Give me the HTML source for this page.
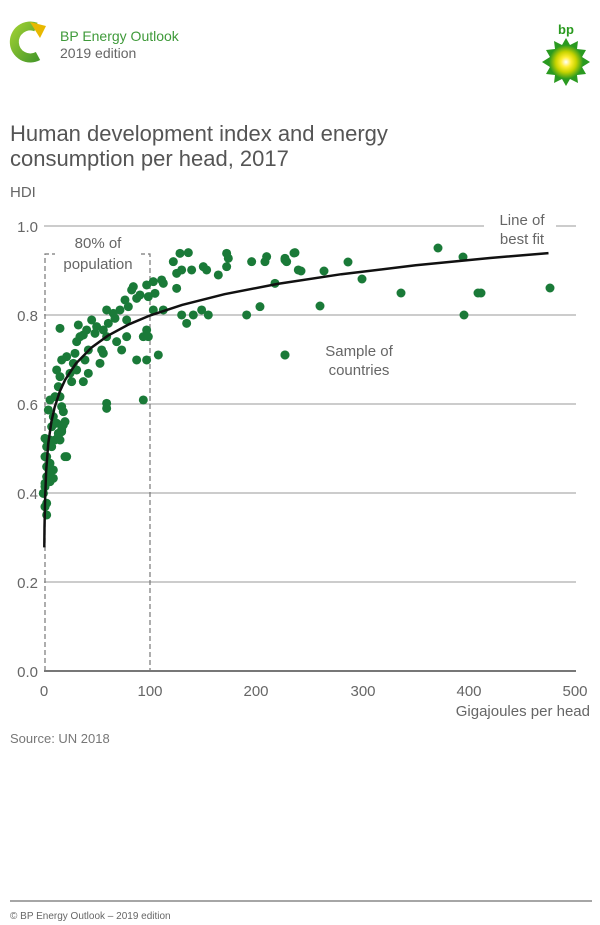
<!DOCTYPE html>
<html><head><meta charset="utf-8"><style>
html,body{margin:0;padding:0;background:#fff;}
svg{display:block;font-family:"Liberation Sans",sans-serif;}
</style></head><body>
<svg width="600" height="925" viewBox="0 0 600 925">
<defs>
<radialGradient id="sun" cx="50%" cy="50%" r="50%">
<stop offset="0" stop-color="#fff"/><stop offset="0.3" stop-color="#ffee33"/><stop offset="0.6" stop-color="#c8d400"/><stop offset="1" stop-color="#2a9a20"/>
</radialGradient>
<linearGradient id="cg" x1="0" y1="0" x2="1" y2="1"><stop offset="0" stop-color="#9acd32"/><stop offset="1" stop-color="#4a9a2a"/></linearGradient>
</defs>
<!-- header icon -->
<path d="M36 27 A16 16 0 1 0 38 56" fill="none" stroke="url(#cg)" stroke-width="9"/>
<polygon points="30,22 46,26 40,38" fill="#e8b800"/>
<text x="60" y="41" font-size="14" fill="#3f9a3a">BP Energy Outlook</text>
<text x="60" y="58" font-size="14" fill="#666">2019 edition</text>
<!-- bp logo -->
<text x="566" y="34" font-size="13" font-weight="bold" fill="#2a9a20" text-anchor="middle">bp</text>
<g transform="translate(566,62)">
<polygon points="0,-24 4,-17 12,-21 11,-13 20,-12 16,-5 24,0 16,5 20,12 11,13 12,21 4,17 0,24 -4,17 -12,21 -11,13 -20,12 -16,5 -24,0 -16,-5 -20,-12 -11,-13 -12,-21 -4,-17" fill="#2a9a20"/>
<circle r="17" fill="url(#sun)"/>
</g>
<!-- title -->
<text x="10" y="141" font-size="22" fill="#555">Human development index and energy</text>
<text x="10" y="166" font-size="22" fill="#555">consumption per head, 2017</text>
<text x="10" y="197" font-size="15" fill="#666">HDI</text>
<!-- grid -->
<g stroke="#999" stroke-width="1">
<line x1="44" y1="226" x2="484" y2="226"/><line x1="556" y1="226" x2="576" y2="226"/>
<line x1="44" y1="315" x2="576" y2="315"/>
<line x1="44" y1="404" x2="576" y2="404"/>
<line x1="44" y1="493" x2="576" y2="493"/>
<line x1="44" y1="582" x2="576" y2="582"/>
</g>
<line x1="44" y1="671" x2="576" y2="671" stroke="#777" stroke-width="2"/>
<g font-size="15" fill="#666" text-anchor="end">
<text x="38" y="232">1.0</text><text x="38" y="321">0.8</text><text x="38" y="410">0.6</text>
<text x="38" y="499">0.4</text><text x="38" y="588">0.2</text><text x="38" y="677">0.0</text>
</g>
<g font-size="15" fill="#666" text-anchor="middle">
<text x="44" y="696">0</text><text x="150" y="696">100</text><text x="256" y="696">200</text>
<text x="363" y="696">300</text><text x="469" y="696">400</text><text x="575" y="696">500</text>
</g>
<text x="590" y="716" font-size="15" fill="#666" text-anchor="end">Gigajoules per head</text>
<text x="10" y="743" font-size="13" fill="#777">Source: UN 2018</text>
<!-- dashed box -->
<path d="M45 671 V254 H150 V671" fill="none" stroke="#777" stroke-width="1.2" stroke-dasharray="5,3"/>
<rect x="55" y="232" width="86" height="40" fill="#fff"/>
<text x="98" y="248" font-size="15" fill="#666" text-anchor="middle">80% of</text>
<text x="98" y="269" font-size="15" fill="#666" text-anchor="middle">population</text>
<text x="522" y="225" font-size="15" fill="#666" text-anchor="middle">Line of</text>
<text x="522" y="244" font-size="15" fill="#666" text-anchor="middle">best fit</text>
<text x="359" y="356" font-size="15" fill="#666" text-anchor="middle">Sample of</text>
<text x="359" y="375" font-size="15" fill="#666" text-anchor="middle">countries</text>
<!-- dots -->
<g fill="#1a7a38">
<g transform="translate(0,210) scale(0.3333)">
<circle cx="540" cy="130" r="13.5"/><circle cx="565" cy="128" r="13.5"/><circle cx="520" cy="155" r="13.5"/><circle cx="530" cy="190" r="13.5"/><circle cx="545" cy="180" r="13.5"/><circle cx="575" cy="180" r="13.5"/><circle cx="610" cy="170" r="13.5"/><circle cx="620" cy="180" r="13.5"/><circle cx="655" cy="195" r="13.5"/><circle cx="680" cy="130" r="13.5"/><circle cx="685" cy="145" r="13.5"/><circle cx="680" cy="170" r="13.5"/><circle cx="755" cy="155" r="13.5"/><circle cx="800" cy="140" r="13.5"/><circle cx="795" cy="155" r="13.5"/><circle cx="855" cy="145" r="13.5"/><circle cx="860" cy="155" r="13.5"/><circle cx="885" cy="128" r="13.5"/><circle cx="895" cy="180" r="13.5"/><circle cx="825" cy="220" r="13.5"/><circle cx="545" cy="315" r="13.5"/><circle cx="580" cy="315" r="13.5"/><circle cx="560" cy="340" r="13.5"/><circle cx="605" cy="300" r="13.5"/><circle cx="625" cy="315" r="13.5"/><circle cx="740" cy="315" r="13.5"/><circle cx="780" cy="290" r="13.5"/><circle cx="855" cy="435" r="13.5"/><circle cx="530" cy="235" r="13.5"/><circle cx="440" cy="225" r="13.5"/><circle cx="460" cy="215" r="13.5"/><circle cx="485" cy="210" r="13.5"/><circle cx="490" cy="220" r="13.5"/><circle cx="445" cy="260" r="13.5"/><circle cx="465" cy="250" r="13.5"/><circle cx="460" cy="300" r="13.5"/><circle cx="490" cy="300" r="13.5"/><circle cx="440" cy="360" r="13.5"/><circle cx="445" cy="380" r="13.5"/><circle cx="430" cy="380" r="13.5"/><circle cx="475" cy="435" r="13.5"/><circle cx="410" cy="450" r="13.5"/><circle cx="440" cy="450" r="13.5"/><circle cx="430" cy="570" r="13.5"/><circle cx="400" cy="230" r="13.5"/><circle cx="420" cy="255" r="13.5"/><circle cx="410" cy="265" r="13.5"/><circle cx="395" cy="240" r="13.5"/><circle cx="375" cy="270" r="13.5"/><circle cx="385" cy="290" r="13.5"/><circle cx="360" cy="300" r="13.5"/><circle cx="340" cy="310" r="13.5"/><circle cx="345" cy="325" r="13.5"/><circle cx="320" cy="300" r="13.5"/><circle cx="325" cy="340" r="13.5"/><circle cx="310" cy="360" r="13.5"/><circle cx="380" cy="330" r="13.5"/><circle cx="380" cy="380" r="13.5"/><circle cx="350" cy="395" r="13.5"/><circle cx="365" cy="420" r="13.5"/><circle cx="320" cy="380" r="13.5"/><circle cx="305" cy="420" r="13.5"/><circle cx="310" cy="430" r="13.5"/><circle cx="300" cy="460" r="13.5"/><circle cx="320" cy="580" r="13.5"/><circle cx="320" cy="595" r="13.5"/><circle cx="290" cy="350" r="13.5"/><circle cx="275" cy="330" r="13.5"/><circle cx="285" cy="370" r="13.5"/><circle cx="260" cy="360" r="13.5"/><circle cx="250" cy="375" r="13.5"/><circle cx="240" cy="380" r="13.5"/><circle cx="235" cy="345" r="13.5"/><circle cx="230" cy="395" r="13.5"/><circle cx="265" cy="420" r="13.5"/><circle cx="255" cy="450" r="13.5"/><circle cx="265" cy="490" r="13.5"/><circle cx="250" cy="515" r="13.5"/><circle cx="225" cy="430" r="13.5"/><circle cx="220" cy="460" r="13.5"/><circle cx="230" cy="480" r="13.5"/><circle cx="200" cy="440" r="13.5"/><circle cx="210" cy="490" r="13.5"/><circle cx="215" cy="515" r="13.5"/><circle cx="180" cy="355" r="13.5"/><circle cx="180" cy="500" r="13.5"/><circle cx="185" cy="450" r="13.5"/><circle cx="170" cy="480" r="13.5"/><circle cx="175" cy="530" r="13.5"/><circle cx="180" cy="560" r="13.5"/><circle cx="185" cy="590" r="13.5"/><circle cx="190" cy="605" r="13.5"/><circle cx="195" cy="635" r="13.5"/><circle cx="185" cy="665" r="13.5"/><circle cx="175" cy="680" r="13.5"/><circle cx="165" cy="690" r="13.5"/><circle cx="150" cy="570" r="13.5"/><circle cx="145" cy="600" r="13.5"/><circle cx="140" cy="690" r="13.5"/><circle cx="140" cy="740" r="13.5"/><circle cx="150" cy="760" r="13.5"/><circle cx="160" cy="780" r="13.5"/><circle cx="200" cy="740" r="13.5"/><circle cx="140" cy="800" r="13.5"/><circle cx="135" cy="830" r="13.5"/><circle cx="130" cy="850" r="13.5"/><circle cx="140" cy="880" r="13.5"/><circle cx="155" cy="650" r="13.5"/><circle cx="160" cy="620" r="13.5"/><circle cx="165" cy="560" r="13.5"/><circle cx="155" cy="710" r="13.5"/><circle cx="170" cy="640" r="13.5"/>
</g>
<g transform="translate(0,420) scale(0.3333)">
<circle cx="135" cy="55" r="13.5"/><circle cx="140" cy="80" r="13.5"/><circle cx="150" cy="60" r="13.5"/><circle cx="175" cy="40" r="13.5"/><circle cx="185" cy="30" r="13.5"/><circle cx="195" cy="110" r="13.5"/><circle cx="135" cy="110" r="13.5"/><circle cx="140" cy="140" r="13.5"/><circle cx="150" cy="160" r="13.5"/><circle cx="160" cy="175" r="13.5"/><circle cx="135" cy="190" r="13.5"/><circle cx="130" cy="220" r="13.5"/><circle cx="135" cy="260" r="13.5"/><circle cx="140" cy="285" r="13.5"/><circle cx="150" cy="185" r="13.5"/><circle cx="180" cy="60" r="13.5"/><circle cx="190" cy="15" r="13.5"/>
</g>
<circle cx="285" cy="260" r="4.5"/><circle cx="294" cy="253" r="4.5"/><circle cx="301" cy="271" r="4.5"/><circle cx="324" cy="271" r="4.5"/><circle cx="348" cy="262" r="4.5"/><circle cx="362" cy="279" r="4.5"/><circle cx="320" cy="306" r="4.5"/><circle cx="401" cy="293" r="4.5"/><circle cx="438" cy="248" r="4.5"/><circle cx="463" cy="257" r="4.5"/><circle cx="464" cy="315" r="4.5"/><circle cx="478" cy="293" r="4.5"/><circle cx="481" cy="293" r="4.5"/><circle cx="550" cy="288" r="4.5"/><circle cx="285" cy="355" r="4.5"/>
</g>
<!-- fit line -->
<polyline fill="none" stroke="#111" stroke-width="2.5" points="44.3,547.4 44.5,527.1 45.1,499.4 46.1,471.7 48.2,444 51.4,421.7 54.6,407.4 59.9,391.2 65.2,379.7 75.9,363.5 91.8,347.3 107.7,335.8 129,324.3 150.2,315.4 182.1,304.9 224.5,294.2 277.6,283.9 341.4,274.2 415.7,265.3 490,258 548.5,253.1"/>
<!-- footer -->
<line x1="10" y1="901" x2="592" y2="901" stroke="#888" stroke-width="1.5"/>
<text x="10" y="919" font-size="10" fill="#666">© BP Energy Outlook – 2019 edition</text>
</svg>
</body></html>
